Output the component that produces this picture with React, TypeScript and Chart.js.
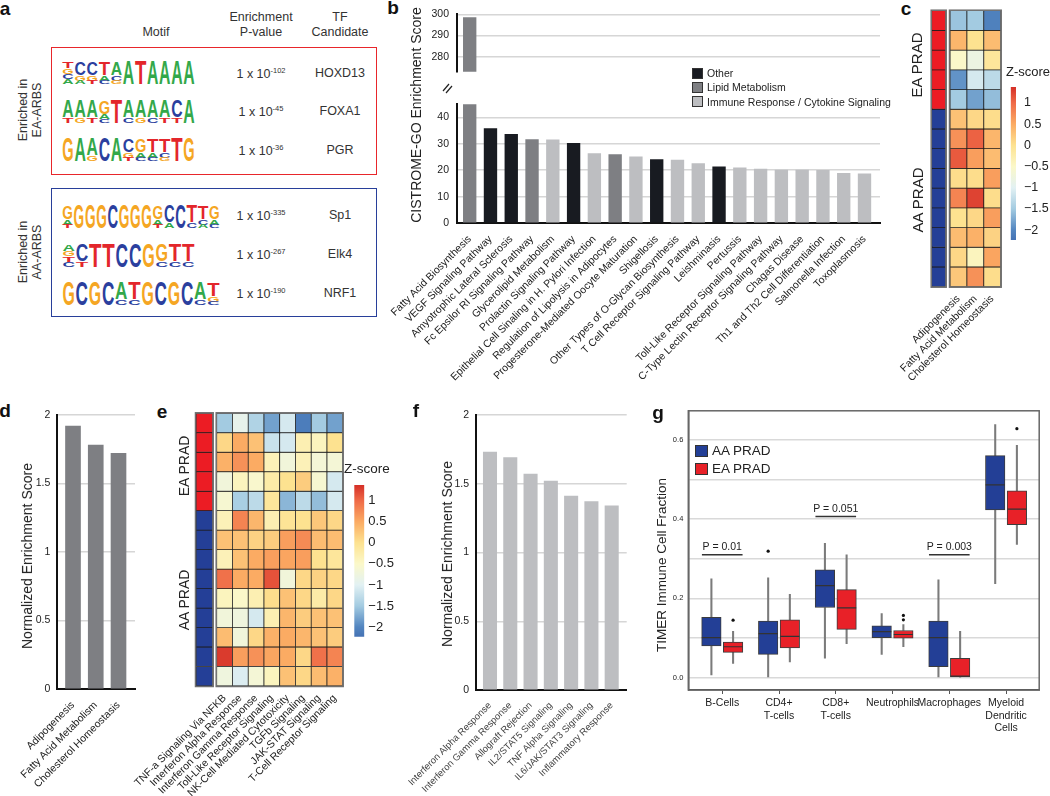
import React, { useEffect, useRef } from 'react';
import { Chart, registerables } from 'chart.js';

Chart.register(...registerables);
const FONT = "'Liberation Sans', Arial, Helvetica, sans-serif";
Chart.defaults.font.family = FONT;
Chart.defaults.color = '#222';

// ---------------- Panel a data ----------------
const eaMotifCols = [
  ['TGCA', 'CGA', 'CGT', 'TAC', 'ACG', 'A', 'T', 'A', 'A', 'A', 'A'],
  ['AT', 'AG', 'AT', 'GAC', 'T', 'AC', 'AG', 'AC', 'AT', 'CT', 'A'],
  ['G', 'A', 'AG', 'C', 'A', 'CGT', 'GAC', 'TAC', 'TCG', 'T', 'G'],
];
const aaMotifCols = [
  ['GAT', 'G', 'G', 'G', 'C', 'G', 'G', 'G', 'GAT', 'CA', 'C', 'TC', 'TCA', 'GAC'],
  ['AGTC', 'CT', 'T', 'T', 'C', 'C', 'G', 'GC', 'TC', 'TC'],
  ['G', 'C', 'G', 'C', 'AC', 'TC', 'G', 'C', 'G', 'C', 'AC', 'TGC'],
];
const eaPvalExp = ['-102', '-45', '-36'];
const aaPvalExp = ['-335', '-267', '-190'];
const eaTF = ['HOXD13', 'FOXA1', 'PGR'];
const aaTF = ['Sp1', 'Elk4', 'NRF1'];

// ---------------- Panel b data ----------------
const cistromeTerms = [
  'Fatty Acid Biosynthesis', 'VEGF Signaling Pathway', 'Amyotrophic Lateral Sclerosis',
  'Fc Epsilor RI Signaling Pathway', 'Glycerolipid Metabolism', 'Prolactin Signaling Pathway',
  'Epithelial Cell Sinaling in H. Pylori Infection', 'Regulation of Lipolysis in Adipocytes',
  'Progesterone-Mediated Oocyte Maturation', 'Shigellosis', 'Other Types of O-Glycan Biosynthesis',
  'T Cell Receptor Signaling Pathway', 'Leishminasis', 'Pertussis', 'Toll-Like Receptor Signaling Pathway',
  'C-Type Lectin Receptor Signaling Pathway', 'Chagas Disease', 'Th1 and Th2 Cell Differentiation',
  'Salmonella Infection', 'Toxoplasmosis',
];
const cistromeScores = [298.4, 35.8, 33.6, 31.6, 31.5, 30.2, 26.3, 25.9, 25.1, 24.0, 23.9, 22.5, 21.3, 20.9, 20.4, 20.1, 20.1, 20.0, 18.8, 18.6];
const cistromeClass = [1, 0, 0, 1, 2, 0, 2, 1, 2, 0, 2, 2, 0, 2, 2, 2, 2, 2, 2, 2];
const classNames = ['Other', 'Lipid Metabolism', 'Immune Response / Cytokine Signaling'];
const classColors = ['#181b21', '#7e7f83', '#bdbec1'];
const bLowTicks = [0, 10, 20, 30, 40];
const bHighTicks = [280, 290, 300];

// ---------------- Panels c / e data ----------------
const sampleGroups = ['EA', 'EA', 'EA', 'EA', 'EA', 'AA', 'AA', 'AA', 'AA', 'AA', 'AA', 'AA', 'AA', 'AA'];
const groupColors: any = { EA: '#ec1c24', AA: '#243f97' };
const lipidPathways = ['Adipogenesis', 'Fatty Acid Metabolism', 'Cholesterol Homeostasis'];
const cZ = [
  [-1.55, -1.5, -2.05],
  [0.4, 0.0, 0.35],
  [-0.5, -0.8, -0.1],
  [-1.9, -1.1, -1.3],
  [-1.5, -1.8, -1.6],
  [0.3, 0.1, 0.05],
  [0.7, 1.05, 0.4],
  [1.1, 0.6, 0.35],
  [0.05, 0.05, 0.6],
  [0.8, 1.25, 0.05],
  [0.0, 0.1, 0.6],
  [0.35, 0.45, 0.15],
  [0.1, -0.4, 0.55],
  [0.25, 0.7, 0.05],
];
const immunePathways = [
  'TNF-a Signaling Via NFKB', 'Interferon Alpha Response', 'Interferon Gamma Response',
  'Toll-Like Receptor Signaling', 'NK-Cell Mediated Cytotoxicity', 'TGFb Signaling',
  'JAK-STAT Signaling', 'T-Cell Receptor Signaling',
];
const eZ = [
  [-1.5, -0.9, -1.4, -1.8, -1.1, -2.1, -1.5, -1.8],
  [0.1, 0.5, 0.3, -1.2, -1.1, -0.3, -0.4, 0.0],
  [0.45, 0.7, 0.5, -0.35, -0.7, -0.35, -0.65, -0.65],
  [-0.7, -0.4, -0.55, -0.2, 0.0, 0.2, -0.6, -1.1],
  [-0.6, -1.45, -1.3, -0.1, -1.65, -1.3, -1.6, -1.1],
  [-0.35, 0.8, 0.4, -0.3, -0.05, 0.0, 0.25, 0.1],
  [0.3, 0.3, 0.15, 0.2, 0.6, 0.75, 0.35, 0.35],
  [-0.35, 0.3, 0.5, 0.6, 0.55, 0.6, 0.0, -0.1],
  [0.95, 0.5, 0.5, 1.15, -0.7, 0.1, 0.15, 0.1],
  [-0.4, -0.5, -0.3, 0.05, 0.3, 0.1, -0.2, 0.1],
  [-0.7, -0.75, -1.1, -0.3, 0.4, 0.2, 0.3, 0.3],
  [0.35, -0.7, 0.1, 0.45, 0.5, 0.4, 0.3, 0.2],
  [1.3, 0.6, 0.7, 0.55, 0.5, 0.1, 0.95, 0.8],
  [-0.75, -1.05, -0.65, -0.4, 0.3, 0.1, 0.35, 0.45],
];
const zMin = -2.23;
const zMax = 1.375;
const zTicks = [-2, -1.5, -1, -0.5, 0, 0.5, 1];
const zStops: [number, string][] = [
  [-2.23, '#4572b4'], [-2, '#5285c0'], [-1.5, '#a3cbe1'], [-1, '#e2f1f3'],
  [-0.5, '#fbf8c9'], [0, '#fde290'], [0.5, '#fbab63'], [1, '#ef6a47'], [1.375, '#d52f27'],
];

// ---------------- Panels d / f data ----------------
const dNES = [1.92, 1.78, 1.72];
const fPathways = [
  'Interferon Alpha Response', 'Interferon Gamma Response', 'Allograft Rejection',
  'IL2/STAT5 Signaling', 'TNF Alpha Signaling', 'IL6/JAK/STAT3 Signaling', 'Inflammatory Response',
];
const fNES = [1.73, 1.69, 1.57, 1.52, 1.41, 1.37, 1.34];
const nesTicks = [0, 0.5, 1, 1.5, 2];

// ---------------- Panel g data ----------------
const gGroups: any[] = ['B-Cells', ['CD4+', 'T-cells'], ['CD8+', 'T-cells'], 'Neutrophils', 'Macrophages', ['Myeloid', 'Dendritic', 'Cells']];
const gSeries = ['AA PRAD', 'EA PRAD'];
const gColors = ['#233f96', '#e82128'];
const aaMin = [0.007, 0.0, 0.049, 0.059, 0.0, 0.237];
const aaQ1 = [0.080, 0.059, 0.177, 0.101, 0.028, 0.423];
const aaMed = [0.101, 0.111, 0.232, 0.116, 0.101, 0.486];
const aaQ3 = [0.152, 0.143, 0.272, 0.131, 0.143, 0.560];
const aaMax = [0.249, 0.252, 0.339, 0.162, 0.247, 0.638];
const eaMin = [0.036, 0.040, 0.086, 0.078, 0.0, 0.336];
const eaQ1 = [0.064, 0.075, 0.122, 0.100, 0.0, 0.386];
const eaMed = [0.078, 0.104, 0.176, 0.109, 0.004, 0.425];
const eaQ3 = [0.090, 0.146, 0.222, 0.119, 0.049, 0.471];
const eaMax = [0.117, 0.210, 0.310, 0.134, 0.117, 0.586];
const aaOutGroup = [1];
const aaOutVal = [0.319];
const eaOutGroup = [0, 3, 3, 5];
const eaOutVal = [0.145, 0.157, 0.146, 0.628];
const pGroups = [0, 2, 4];
const pLineY = [0.31, 0.4065, 0.31];
const pTexts = ['P = 0.01', 'P = 0.051', 'P = 0.003'];
const gYTicks = [0, 0.1, 0.2, 0.3, 0.4, 0.5, 0.6];

// ---------------- helpers ----------------
function hex(c: string) { return [1, 3, 5].map((i) => parseInt(c.slice(i, i + 2), 16)); }
function zColor(v: number) {
  if (v <= zStops[0][0]) return zStops[0][1];
  for (let k = 1; k < zStops.length; k++) {
    const [v1, c1] = zStops[k];
    if (v <= v1) {
      const [v0, c0] = zStops[k - 1];
      const t = (v - v0) / (v1 - v0);
      const a = hex(c0), b = hex(c1);
      return `rgb(${a.map((x, i) => Math.round(x + (b[i] - x) * t)).join(',')})`;
    }
  }
  return zStops[zStops.length - 1][1];
}

const baseOpts = () => ({
  animation: false,
  responsive: false,
  maintainAspectRatio: false,
  devicePixelRatio: 1,
  events: [],
});
const noPlugins = { legend: { display: false }, tooltip: { enabled: false } };

function framePlugin(color: string, width: number, grow = 0) {
  return {
    id: 'frame',
    afterDatasetsDraw(chart: any) {
      const { ctx, chartArea: a } = chart;
      ctx.save();
      ctx.strokeStyle = color;
      ctx.lineWidth = width;
      ctx.strokeRect(a.left - grow, a.top - grow, a.right - a.left + 2 * grow, a.bottom - a.top + 2 * grow);
      ctx.restore();
    },
  };
}

function ChartCanvas({ left, top, width, height, make }: any) {
  const ref = useRef<HTMLCanvasElement | null>(null);
  useEffect(() => {
    if (!ref.current) return;
    let chart: any = null;
    try {
      chart = new Chart(ref.current, make());
    } catch (e) {
      console.error(e);
    }
    return () => { if (chart) chart.destroy(); };
  }, []);
  return <canvas ref={ref} width={width} height={height} style={{ position: 'absolute', left, top, width, height }} />;
}

function Txt({ x, y, children, size = 12, rot = 0, weight = 400, color = '#222', align = 'center' }: any) {
  const tx = align === 'center' ? '-50%' : align === 'right' ? '-100%' : '0%';
  return (
    <div style={{ position: 'absolute', left: x, top: y, transform: `translate(${tx}, -50%) rotate(${rot}deg)`, fontSize: size, fontWeight: weight, color, whiteSpace: 'nowrap', lineHeight: 1.15, fontFamily: FONT }}>
      {children}
    </div>
  );
}

function barChart(o: any) {
  return {
    type: 'bar',
    data: {
      datasets: [{
        data: o.values.map((v: number, i: number) => ({ x: i, y: v })),
        backgroundColor: o.colors,
        barThickness: o.barThickness,
        borderWidth: 0,
      }],
    },
    options: {
      ...baseOpts(),
      layout: { padding: o.padding },
      plugins: noPlugins,
      scales: {
        x: {
          type: 'linear', min: o.xMin, max: o.xMax, offset: false, display: o.showX,
          afterBuildTicks: (s: any) => { s.ticks = o.labels.map((_: any, i: number) => ({ value: i })); },
          afterFit: (s: any) => { s.height = o.xHeight; },
          grid: { display: false, offset: false, drawTicks: false },
          border: { display: true, color: '#111', width: 2 },
          ticks: { autoSkip: false, maxRotation: 45, minRotation: 45, padding: 10, font: { size: o.labelSize }, color: o.labelColor, callback: (v: any) => o.labels[v] },
        },
        y: {
          type: 'linear', min: o.yMin, max: o.yMax,
          afterBuildTicks: (s: any) => { s.ticks = o.yTicks.map((v: number) => ({ value: v })); },
          afterFit: (s: any) => { s.width = o.yWidth; },
          grid: { color: '#d6d6d6', lineWidth: 1.5, drawTicks: false },
          border: { display: true, color: '#111', width: 2 },
          ticks: { padding: o.yPad, font: { size: o.tickSize }, color: '#222', callback: (v: any) => String(v) },
        },
      },
    },
  };
}

function heatChart(o: any) {
  const n = o.colors.length;
  return {
    type: 'bar',
    data: {
      labels: o.cols,
      datasets: o.colors.map((row: string[], r: number) => ({
        data: row.map(() => [r, r + 1]),
        backgroundColor: row,
        borderColor: '#1c1c1c',
        borderWidth: 0.75,
        borderSkipped: false,
        barPercentage: 1,
        categoryPercentage: 1,
        grouped: false,
      })),
    },
    options: {
      ...baseOpts(),
      layout: { padding: o.padding },
      plugins: noPlugins,
      scales: {
        x: {
          display: o.showX,
          grid: { display: false, drawTicks: false },
          border: { display: false },
          afterFit: (s: any) => { s.height = o.xHeight; },
          ticks: { autoSkip: false, minRotation: 45, maxRotation: 45, padding: 6, font: { size: o.labelSize }, color: '#222' },
        },
        y: { display: false, min: 0, max: n, reverse: true },
      },
    },
    plugins: [framePlugin('#6e6e6e', 1.5, 0.5)],
  };
}

function colorbarChart(o: any) {
  return {
    type: 'bar',
    data: {
      labels: [''],
      datasets: [{
        data: [[zMin, zMax]],
        backgroundColor: (ctx: any) => {
          const ch = ctx.chart;
          const ys = ch.scales && ch.scales.y;
          if (!ys || !ch.chartArea) return '#fde290';
          const y0 = ys.getPixelForValue(zMin);
          const y1 = ys.getPixelForValue(zMax);
          if (!isFinite(y0) || !isFinite(y1) || y0 === y1) return '#fde290';
          const g = ch.ctx.createLinearGradient(0, y0, 0, y1);
          zStops.forEach(([v, c]) => g.addColorStop((v - zMin) / (zMax - zMin), c));
          return g;
        },
        barPercentage: 1,
        categoryPercentage: 1,
        borderWidth: 0,
      }],
    },
    options: {
      ...baseOpts(),
      layout: { padding: o.padding },
      plugins: noPlugins,
      scales: {
        x: { display: false },
        y: {
          position: 'right', min: zMin, max: zMax,
          afterBuildTicks: (s: any) => { s.ticks = zTicks.map((v) => ({ value: v })); },
          afterFit: (s: any) => { s.width = o.yWidth; },
          grid: { display: false, drawTicks: false },
          border: { display: false },
          ticks: { padding: o.pad, font: { size: o.size }, color: '#222', callback: (v: any) => (v < 0 ? '\u2212' + Math.abs(v) : String(v)) },
        },
      },
    },
  };
}

function boxChart() {
  const off = 0.191;
  const whisk = (side: number, mins: number[], q1: number[], q3: number[], maxs: number[]) => ({
    type: 'bar',
    data: gGroups.flatMap((_: any, i: number) => [
      { x: i + side * off, y: [mins[i], q1[i]] },
      { x: i + side * off, y: [q3[i], maxs[i]] },
    ]),
    backgroundColor: '#7b7b7b', barThickness: 1.4, grouped: false, borderWidth: 0, order: 5,
  });
  const box = (side: number, q1: number[], q3: number[], color: string) => ({
    type: 'bar',
    data: gGroups.map((_: any, i: number) => ({ x: i + side * off, y: [q1[i], q3[i]] })),
    backgroundColor: color, borderColor: '#3c3c3c', borderWidth: 1, borderSkipped: false,
    barThickness: 19.5, grouped: false, order: 3,
  });
  const med = (side: number, m: number[]) => ({
    type: 'scatter',
    data: gGroups.map((_: any, i: number) => ({ x: i + side * off, y: m[i] })),
    pointStyle: 'line', pointRadius: 9.6, pointBorderColor: '#333', pointBorderWidth: 1.2, order: 1,
  });
  const outl = (side: number, gs: number[], vs: number[]) => ({
    type: 'scatter',
    data: gs.map((g, k) => ({ x: g + side * off, y: vs[k] })),
    pointStyle: 'circle', pointRadius: 1.6, pointBackgroundColor: '#111', pointBorderWidth: 0, order: 0,
  });
  const pPlugin = {
    id: 'pvals',
    afterDatasetsDraw(chart: any) {
      const { ctx, scales: { x, y } } = chart;
      ctx.save();
      pGroups.forEach((g, k) => {
        const yy = y.getPixelForValue(pLineY[k]);
        const x0 = x.getPixelForValue(g - 0.358);
        const x1 = x.getPixelForValue(g + 0.358);
        ctx.strokeStyle = '#333';
        ctx.lineWidth = 1.3;
        ctx.beginPath(); ctx.moveTo(x0, yy); ctx.lineTo(x1, yy); ctx.stroke();
        ctx.fillStyle = '#222';
        ctx.font = `10.5px ${FONT}`;
        ctx.textAlign = 'center';
        ctx.textBaseline = 'bottom';
        ctx.fillText(pTexts[k], (x0 + x1) / 2, yy - 2);
      });
      ctx.restore();
    },
  };
  return {
    type: 'bar',
    data: {
      datasets: [
        whisk(-1, aaMin, aaQ1, aaQ3, aaMax),
        whisk(1, eaMin, eaQ1, eaQ3, eaMax),
        box(-1, aaQ1, aaQ3, gColors[0]),
        box(1, eaQ1, eaQ3, gColors[1]),
        med(-1, aaMed),
        med(1, eaMed),
        outl(-1, aaOutGroup, aaOutVal),
        outl(1, eaOutGroup, eaOutVal),
      ],
    },
    options: {
      ...baseOpts(),
      layout: { padding: { top: 10, right: 6, left: 0, bottom: 0 } },
      plugins: noPlugins,
      scales: {
        x: {
          type: 'linear', min: -0.598, max: 5.584, offset: false,
          afterBuildTicks: (s: any) => { s.ticks = gGroups.map((_: any, i: number) => ({ value: i })); },
          afterFit: (s: any) => { s.height = 106; },
          grid: { display: true, drawOnChartArea: false, drawTicks: true, tickLength: 4, color: '#555', offset: false },
          border: { display: true, color: '#444', width: 1.5 },
          ticks: { autoSkip: false, maxRotation: 0, minRotation: 0, padding: 3, font: { size: 10.5 }, color: '#222', callback: (v: any) => gGroups[v] },
        },
        y: {
          type: 'linear', min: -0.031, max: 0.673,
          afterBuildTicks: (s: any) => { s.ticks = gYTicks.map((v) => ({ value: v })); },
          afterFit: (s: any) => { s.width = 28.3; },
          grid: { color: '#d9d9d9', lineWidth: 1.5, drawTicks: false },
          border: { display: true, color: '#444', width: 1.5 },
          ticks: { padding: 5, font: { size: 7.5 }, color: '#222', callback: (v: any) => (Math.round(v * 10) % 2 === 0 ? Number(v).toFixed(1) : '') },
        },
      },
    },
    plugins: [framePlugin('#666', 1.5), pPlugin],
  };
}

// ---------------- Panel a components ----------------
const LOGO_COLORS: any = { A: '#33a84a', C: '#2b3f9e', G: '#f5a623', T: '#e3262b' };
const FRACS: any = { 1: [1], 2: [0.7, 0.24], 3: [0.58, 0.22, 0.14], 4: [0.26, 0.24, 0.22, 0.2] };

function Logo({ x, y, cols, width, height }: any) {
  const cw = width / cols.length;
  const out: any[] = [];
  cols.forEach((col: string, ci: number) => {
    const fr = FRACS[col.length];
    let top = y - height * fr.reduce((a: number, b: number) => a + b, 0);
    col.split('').forEach((L, li) => {
      const h = height * fr[li];
      const bottom = top + h;
      out.push(
        <text key={ci + '-' + li}
          transform={`translate(${(x + ci * cw + cw * 0.03).toFixed(2)},${bottom.toFixed(2)}) scale(1,${(h / 14.5).toFixed(3)})`}
          fontSize={20} fontWeight={700} fontFamily={FONT}
          textLength={(cw * 0.94).toFixed(2)} lengthAdjust="spacingAndGlyphs" fill={LOGO_COLORS[L]}>{L}</text>,
      );
      top = bottom;
    });
  });
  return <g>{out}</g>;
}

function PVal({ x, y, exp }: any) {
  return (
    <Txt x={x} y={y} size={12.5} color="#333">
      1 x 10<span style={{ fontSize: 7.5, position: 'relative', top: -5 }}>{exp}</span>
    </Txt>
  );
}

function PanelA() {
  const rowsEA = [73.5, 112, 151];
  const rowsAA = [216, 255, 293.5];
  const baseEA = [84, 122.5, 161];
  const baseAA = [228, 266.5, 305];
  const widthsEA = [133, 133, 133];
  const widthsAA = [158, 133, 158];
  return (
    <>
      <Txt x={5} y={9} size={19} weight={700} color="#111">a</Txt>
      <Txt x={156} y={31.5} size={12.5} color="#333">Motif</Txt>
      <Txt x={261} y={17} size={12.5} color="#333">Enrichment</Txt>
      <Txt x={261} y={31.5} size={12.5} color="#333">P-value</Txt>
      <Txt x={340} y={17} size={12.5} color="#333">TF</Txt>
      <Txt x={340} y={31.5} size={12.5} color="#333">Candidate</Txt>
      <div style={{ position: 'absolute', left: 51, top: 47, width: 326, height: 128, border: '1.5px solid #e8262b', boxSizing: 'border-box' }} />
      <div style={{ position: 'absolute', left: 51, top: 188, width: 326, height: 129, border: '1.5px solid #283f9a', boxSizing: 'border-box' }} />
      <Txt x={23} y={110} size={12.5} rot={-90} color="#333">Enriched in</Txt>
      <Txt x={37} y={110} size={12.5} rot={-90} color="#333">EA-ARBS</Txt>
      <Txt x={23} y={252} size={12.5} rot={-90} color="#333">Enriched in</Txt>
      <Txt x={37} y={252} size={12.5} rot={-90} color="#333">AA-ARBS</Txt>
      <svg width={380} height={330} style={{ position: 'absolute', left: 0, top: 0 }}>
        {eaMotifCols.map((cols, i) => <Logo key={'e' + i} x={62} y={baseEA[i]} cols={cols} width={widthsEA[i]} height={24} />)}
        {aaMotifCols.map((cols, i) => <Logo key={'a' + i} x={62} y={baseAA[i]} cols={cols} width={widthsAA[i]} height={24} />)}
      </svg>
      {eaPvalExp.map((e, i) => <PVal key={'pe' + i} x={261} y={rowsEA[i]} exp={e} />)}
      {aaPvalExp.map((e, i) => <PVal key={'pa' + i} x={261} y={rowsAA[i]} exp={e} />)}
      {eaTF.map((t, i) => <Txt key={'te' + i} x={340} y={rowsEA[i] - 1} size={12.5} color="#333">{t}</Txt>)}
      {aaTF.map((t, i) => <Txt key={'ta' + i} x={340} y={rowsAA[i] - 1} size={12.5} color="#333">{t}</Txt>)}
    </>
  );
}

// ---------------- App ----------------
export default function App() {
  const cColors = cZ.map((r) => r.map(zColor));
  const eColors = eZ.map((r) => r.map(zColor));
  const annot = sampleGroups.map((g) => [groupColors[g]]);
  const bLegendY = [73.3, 87.3, 101.7];
  const gLegendY = [451, 469];
  return (
    <div style={{ position: 'absolute', left: 0, top: 0, width: 1050, height: 796, overflow: 'hidden', background: '#fff', fontFamily: FONT, color: '#222' }}>
      <PanelA />

      {/* ---- b ---- */}
      <Txt x={393} y={8} size={19} weight={700} color="#111">b</Txt>
      <ChartCanvas left={360} top={0} width={530} height={86} make={() => barChart({
        labels: cistromeTerms, values: cistromeScores, colors: cistromeClass.map((c) => classColors[c]),
        xMin: -0.611, xMax: 19.746, yMin: 273, yMax: 300, yTicks: bHighTicks, yWidth: 97, xHeight: 0,
        padding: { top: 11, right: 10, left: 0, bottom: 1 }, barThickness: 12.7, labelSize: 10.5, labelColor: '#222',
        tickSize: 10.5, yPad: 8, showX: false,
      })} />
      <ChartCanvas left={360} top={90} width={530} height={320} make={() => barChart({
        labels: cistromeTerms, values: cistromeScores, colors: cistromeClass.map((c) => classColors[c]),
        xMin: -0.611, xMax: 19.746, yMin: 0, yMax: 45, yTicks: bLowTicks, yWidth: 97, xHeight: 187,
        padding: { top: 6, right: 10, left: 0, bottom: 0 }, barThickness: 12.7, labelSize: 10.5, labelColor: '#222',
        tickSize: 10.5, yPad: 8, showX: true,
      })} />
      <svg width={20} height={20} style={{ position: 'absolute', left: 440, top: 80 }}>
        <line x1={3} y1={11} x2={9} y2={4} stroke="#222" strokeWidth={1.2} />
        <line x1={6} y1={13} x2={12} y2={6} stroke="#222" strokeWidth={1.2} />
      </svg>
      <Txt x={416} y={115} size={14} rot={-90}>CISTROME-GO Enrichment Score</Txt>
      {classNames.map((n, i) => (
        <React.Fragment key={n}>
          <div style={{ position: 'absolute', left: 692, top: bLegendY[i] - 5.5, width: 11, height: 11, background: classColors[i], border: '1px solid #333', boxSizing: 'border-box' }} />
          <Txt x={707} y={bLegendY[i]} size={10.5} align="left">{n}</Txt>
        </React.Fragment>
      ))}

      {/* ---- c ---- */}
      <Txt x={906} y={9} size={19} weight={700} color="#111">c</Txt>
      <ChartCanvas left={880} top={0} width={130} height={400} make={() => heatChart({
        cols: lipidPathways, colors: cColors, padding: { left: 70, right: 9.3, top: 10.7, bottom: 0 }, xHeight: 113.3, showX: true, labelSize: 10.5,
      })} />
      <ChartCanvas left={925} top={0} width={25} height={300} make={() => heatChart({
        cols: ['group'], colors: annot, padding: { left: 6.7, right: 4.3, top: 10.7, bottom: 13.3 }, xHeight: 0, showX: false, labelSize: 10,
      })} />
      <ChartCanvas left={1000} top={70} width={50} height={190} make={() => colorbarChart({
        padding: { left: 10.7, right: 0, top: 17, bottom: 20 }, yWidth: 34, pad: 8, size: 12.5,
      })} />
      <Txt x={917} y={65} size={15} rot={-90}>EA PRAD</Txt>
      <Txt x={918} y={200} size={15} rot={-90}>AA PRAD</Txt>
      <Txt x={1028} y={72} size={13}>Z-score</Txt>

      {/* ---- d ---- */}
      <Txt x={5} y={411} size={19} weight={700} color="#111">d</Txt>
      <ChartCanvas left={0} top={400} width={150} height={396} make={() => barChart({
        labels: lipidPathways, values: dNES, colors: '#7e7f83',
        xMin: -0.69, xMax: 2.725, yMin: 0, yMax: 2, yTicks: nesTicks, yWidth: 57.3, xHeight: 107,
        padding: { top: 15, right: 15, left: 0, bottom: 0 }, barThickness: 15, labelSize: 10.5, labelColor: '#222',
        tickSize: 10.5, yPad: 7, showX: true,
      })} />
      <Txt x={27} y={556} size={14} rot={-90}>Normalized Enrichment Score</Txt>

      {/* ---- e ---- */}
      <Txt x={162} y={412} size={19} weight={700} color="#111">e</Txt>
      <ChartCanvas left={120} top={400} width={232} height={396} make={() => heatChart({
        cols: immunePathways, colors: eColors, padding: { left: 96.7, right: 9.3, top: 13.3, bottom: 0 }, xHeight: 110, showX: true, labelSize: 10.5,
      })} />
      <ChartCanvas left={190} top={400} width={30} height={300} make={() => heatChart({
        cols: ['group'], colors: annot, padding: { left: 6, right: 7.3, top: 13.3, bottom: 14 }, xHeight: 0, showX: false, labelSize: 10,
      })} />
      <ChartCanvas left={345} top={470} width={60} height={190} make={() => colorbarChart({
        padding: { left: 9.3, right: 0, top: 15, bottom: 23.3 }, yWidth: 40.7, pad: 4, size: 13,
      })} />
      <Txt x={184} y={466} size={14} rot={-90}>EA PRAD</Txt>
      <Txt x={184} y={600} size={14} rot={-90}>AA PRAD</Txt>
      <Txt x={367} y={469} size={13.5}>Z-score</Txt>

      {/* ---- f ---- */}
      <Txt x={416} y={411} size={19} weight={700} color="#111">f</Txt>
      <ChartCanvas left={390} top={400} width={250} height={396} make={() => barChart({
        labels: fPathways, values: fNES, colors: '#bdbec1',
        xMin: -0.69, xMax: 6.74, yMin: 0, yMax: 2, yTicks: nesTicks, yWidth: 86, xHeight: 106,
        padding: { top: 15, right: 13.3, left: 0, bottom: 0 }, barThickness: 13.4, labelSize: 9.5, labelColor: '#444',
        tickSize: 10.5, yPad: 7, showX: true,
      })} />
      <Txt x={447} y={554} size={14} rot={-90}>Normalized Enrichment Score</Txt>

      {/* ---- g ---- */}
      <Txt x={658} y={413} size={19} weight={700} color="#111">g</Txt>
      <ChartCanvas left={660} top={400} width={390} height={396} make={boxChart} />
      <Txt x={662} y={565} size={13.5} rot={-90}>TIMER Immune Cell Fraction</Txt>
      {gSeries.map((n, i) => (
        <React.Fragment key={n}>
          <div style={{ position: 'absolute', left: 695, top: gLegendY[i] - 6.2, width: 12.7, height: 12.4, background: gColors[i], border: '1px solid #333', boxSizing: 'border-box' }} />
          <Txt x={712} y={gLegendY[i]} size={13.5} align="left">{n}</Txt>
        </React.Fragment>
      ))}
    </div>
  );
}
